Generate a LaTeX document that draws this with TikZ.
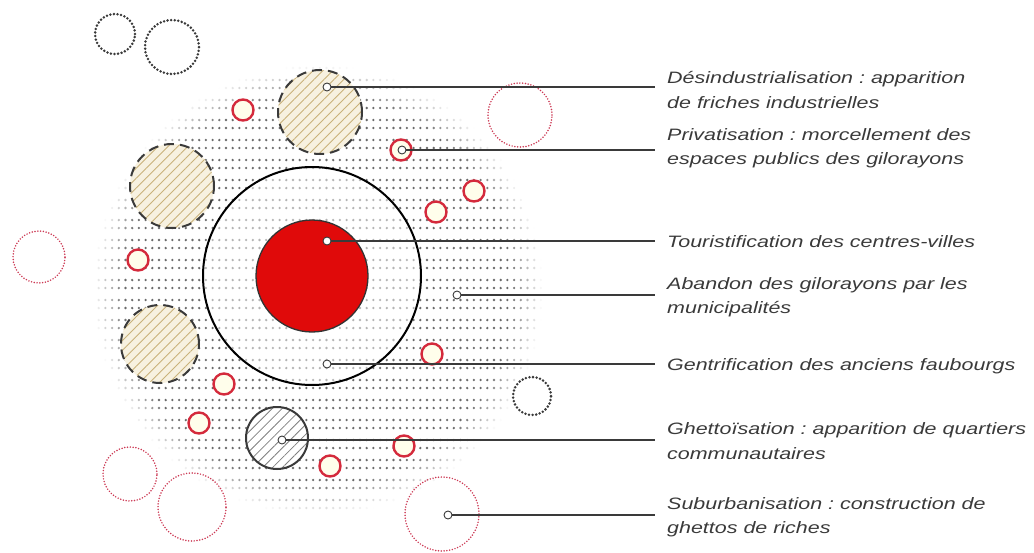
\documentclass[tikz,border=0pt]{standalone}
\usepackage{fontspec}
\setmainfont{Liberation Sans}
\newfontfamily\lblfont[FakeStretch=1.3]{Liberation Sans}
\usetikzlibrary{patterns.meta}

\definecolor{inkgrey}{HTML}{3A3A3A}
\definecolor{dotgrey}{HTML}{5A5A5A}
\definecolor{cityred}{HTML}{E00A0A}
\definecolor{ringred}{HTML}{D42A3C}
\definecolor{paleblush}{HTML}{CC3A55}
\definecolor{hatchtan}{HTML}{C9B27A}
\definecolor{hatchbg}{HTML}{F7F1E0}

\tikzset{
  zone/.style={circle, inner sep=0pt, minimum size=#1},
  friche/.style={zone=#1, draw=inkgrey, line width=2pt, dash pattern=on 10pt off 6pt,
    preaction={fill=hatchbg}, pattern={Lines[angle=45,distance=7pt,line width=0.9pt]}, pattern color=hatchtan},
  ghetto/.style={zone=#1, draw=inkgrey, line width=2pt, preaction={fill=white},
    pattern={Lines[angle=45,distance=7pt,line width=0.8pt]}, pattern color=gray},
  poche/.style={zone=#1, draw=ringred, line width=2.4pt, fill=white!92!yellow},
  riche/.style={zone=#1, draw=paleblush, line width=1.7pt, line cap=round, dash pattern=on 0pt off 2.8pt},
  noir/.style={zone=#1, draw=inkgrey, line width=2.8pt, line cap=round, dash pattern=on 0pt off 3.6pt},
  pin/.style={circle, draw=inkgrey, fill=white, line width=0.9pt, inner sep=0pt, minimum size=8pt},
  lbl/.style={anchor=west, inner xsep=12pt, align=left, text=inkgrey,
    font=\lblfont\fontsize{16.5}{24.5}\selectfont\itshape\frenchspacing},
  leader/.style={draw=inkgrey, line width=1.2pt}
}

\begin{document}
\begin{tikzpicture}[x=1pt, y=-1pt]
\useasboundingbox (0,0) rectangle (1034,552);

% dotted urban field
\foreach \j in {0,...,46} {
  \pgfmathsetmacro{\yy}{60+20*floor(\j/2)+8*mod(\j,2)}
  \foreach \i in {0,...,68} {
    \pgfmathsetmacro{\xx}{92+6.7*\i}
    \pgfmathsetmacro{\dd}{veclen(\xx-318,\yy-290)}
    \ifdim\dd pt<225pt
      \pgfmathsetmacro{\op}{min(0.9,(225-\dd)/35)}
      \fill[dotgrey, opacity=\op] (\xx,\yy) circle (1.3);
    \fi
  }
}

% faubourgs and centre
\node[zone=218pt, draw=black, line width=2pt, fill=white, fill opacity=0.5] (faubourg) at (312,276) {};
\node[zone=112pt, draw=black!80, line width=1.3pt, fill=cityred] (centre) at (312,276) {};

% friches, ghetto
\node[friche=84pt] (f1) at (320,112) {};
\node[friche=84pt] (f2) at (172,186) {};
\node[friche=78pt] (f3) at (160,344) {};
\node[ghetto=62pt] (gh) at (277,438) {};

% small red pockets
\node[poche=21pt] (p1) at (243,110) {};
\node[poche=21pt] (p2) at (401,150) {};
\node[poche=21pt] (p3) at (474,191) {};
\node[poche=21pt] (p4) at (436,212) {};
\node[poche=21pt] (p5) at (138,260) {};
\node[poche=21pt] (p6) at (432,354) {};
\node[poche=21pt] (p7) at (224,384) {};
\node[poche=21pt] (p8) at (199,423) {};
\node[poche=21pt] (p9) at (404,446) {};
\node[poche=21pt] (p10) at (330,466) {};

% outer dotted rings
\node[noir=40pt] (n1) at (115,34) {};
\node[noir=54pt] (n2) at (172,47) {};
\node[noir=38pt] (n3) at (532,396) {};
\node[riche=64pt] (r1) at (520,115) {};
\node[riche=52pt] (r2) at (39,257) {};
\node[riche=54pt] (r3) at (130,474) {};
\node[riche=68pt] (r4) at (192,507) {};
\node[riche=74pt] (r5) at (442,514) {};

% pins
\node[pin] (m1) at (327,87) {};
\node[pin] (m2) at (402,150) {};
\node[pin] (m3) at (327,241) {};
\node[pin] (m4) at (457,295) {};
\node[pin] (m5) at (327,364) {};
\node[pin] (m6) at (282,440) {};
\node[pin] (m7) at (448,515) {};

% labels
\node[lbl] (l1) at (655,90) {Désindustrialisation : apparition\\de friches industrielles};
\node[lbl] (l2) at (655,148) {Privatisation : morcellement des\\espaces publics des gilorayons};
\node[lbl] (l3) at (655,242) {Touristification des centres-villes};
\node[lbl] (l4) at (655,297) {Abandon des gilorayons par les\\municipalités};
\node[lbl] (l5) at (655,366) {Gentrification des anciens faubourgs};
\node[lbl] (l6) at (655,441) {Ghettoïsation : apparition de quartiers\\communautaires};
\node[lbl] (l7) at (655,517) {Suburbanisation : construction de\\ghettos de riches};

\foreach \k in {1,...,7}
  \path[leader] (m\k) -- (m\k -| l\k.west);
\end{tikzpicture}
\end{document}
